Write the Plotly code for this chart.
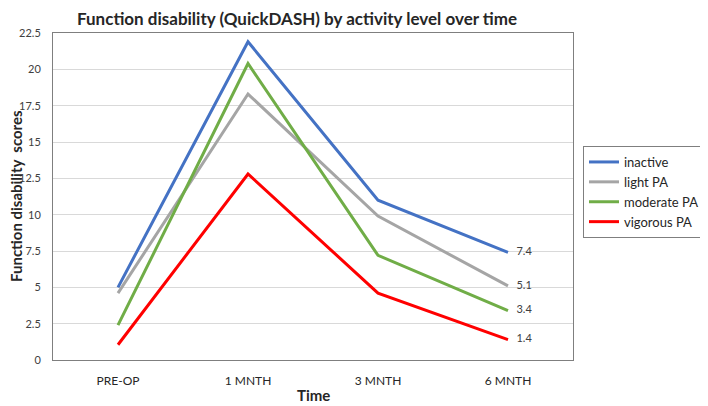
import plotly.graph_objects as go

categories = ["PRE-OP", "1 MNTH", "3 MNTH", "6 MNTH"]
series_names = ["inactive", "light PA", "moderate PA", "vigorous PA"]
inactive = [5.0, 21.9, 11.0, 7.4]
light_pa = [4.6, 18.3, 9.9, 5.1]
moderate_pa = [2.4, 20.4, 7.2, 3.4]
vigorous_pa = [1.05, 12.8, 4.6, 1.4]
y_ticks = [0, 2.5, 5, 7.5, 10, 12.5, 15, 17.5, 20, 22.5]

colors = ["#4472C4", "#A5A5A5", "#70AD47", "#FF0000"]
all_values = [inactive, light_pa, moderate_pa, vigorous_pa]

FONT = "Lato, 'Open Sans', sans-serif"

# page has an 8px body margin; figure is sized to fill the remaining window
OFF = 8
FW, FH = 708 - OFF, 406 - OFF
W, H = 520, 327
L, T = 53 - OFF, 33 - OFF
B = T + H


def px(x):
    return (x - OFF - L) / W


def py(y):
    return (B - (y - OFF)) / H


fig = go.Figure()
for name, vals, col in zip(series_names, all_values, colors):
    labels = [""] * (len(vals) - 1) + [f"   {vals[-1]:.1f}"]
    fig.add_trace(go.Scatter(
        x=categories, y=vals, name=name, mode="lines+text",
        line=dict(color=col, width=3),
        text=labels, textposition="middle right",
        textfont=dict(size=11, color="#404040", family=FONT),
        cliponaxis=False,
    ))

fig.update_layout(
    width=FW, height=FH,
    margin=dict(l=L, r=FW - L - W, t=T, b=FH - B, autoexpand=False),
    paper_bgcolor="white", plot_bgcolor="white",
    font=dict(family=FONT, color="#262626"),
    showlegend=True,
    legend=dict(
        x=px(583), y=py(146), xanchor="left", yanchor="top",
        bordercolor="#7f7f7f", borderwidth=1,
        font=dict(size=13, color="#262626", family=FONT),
        itemwidth=30, tracegroupgap=0,
    ),
)
fig.add_annotation(text="<b>Function disability (QuickDASH) by activity level over time</b>",
                   x=px(297), y=py(18), xref="paper", yref="paper",
                   showarrow=False, xanchor="center", yanchor="middle",
                   font=dict(size=17, color="#262626", family=FONT))
fig.add_annotation(text="<b>Time</b>", x=px(313), y=py(395),
                   xref="paper", yref="paper", showarrow=False,
                   xanchor="center", yanchor="middle",
                   font=dict(size=15, color="#262626", family=FONT))
fig.add_annotation(text="<b>Function disability  scores</b>", x=px(16),
                   y=py(196), xref="paper", yref="paper", showarrow=False,
                   textangle=-90, xanchor="center", yanchor="middle",
                   font=dict(size=15, color="#262626", family=FONT))

fig.update_xaxes(
    type="category", range=[-0.5, 3.5],
    showline=True, linecolor="#7f7f7f", linewidth=1, mirror=True,
    showgrid=False, ticks="", tickfont=dict(size=12, color="#262626"),
    ticklabelstandoff=10,
)
fig.update_yaxes(
    range=[0, 22.5], tickvals=y_ticks, ticktext=[f"{v:g}" for v in y_ticks],
    showline=True, linecolor="#7f7f7f", linewidth=1, mirror=True,
    showgrid=True, gridcolor="#d9d9d9", gridwidth=1, zeroline=False,
    ticks="", tickfont=dict(size=11, color="#404040"), ticklabelstandoff=9,
)

fig.write_html("out.html")
